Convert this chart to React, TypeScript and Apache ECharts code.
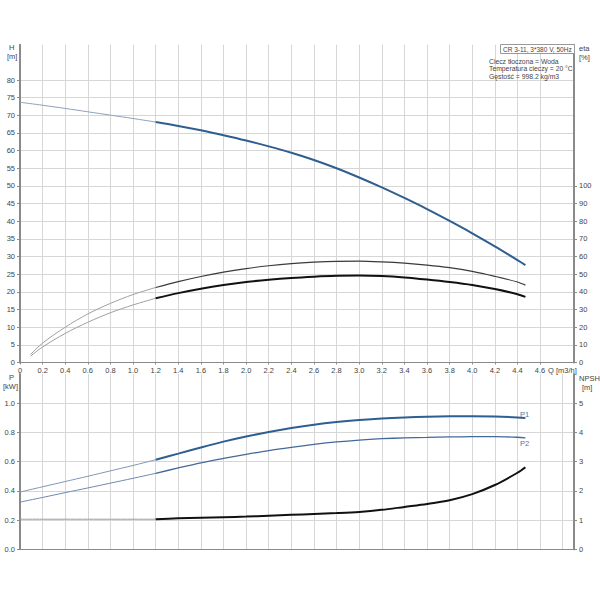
import React, { useEffect, useRef } from "react";
import * as echarts from "echarts";

// ---- data ----
const Q = [0, 0.2, 0.4, 0.6, 0.8, 1.0, 1.2, 1.4, 1.6, 1.8, 2.0, 2.2, 2.4, 2.6, 2.8, 3.0, 3.2, 3.4, 3.6, 3.8, 4.0, 4.2, 4.4, 4.47];
const H = [73.7, 72.85, 71.95, 71.0, 70.05, 69.1, 68.1, 67.0, 65.75, 64.35, 62.85, 61.2, 59.4, 57.35, 55.0, 52.4, 49.6, 46.6, 43.45, 40.1, 36.6, 32.9, 29.0, 27.6];
const P1 = [0.392, 0.428, 0.464, 0.5, 0.537, 0.574, 0.613, 0.655, 0.697, 0.737, 0.772, 0.803, 0.83, 0.853, 0.871, 0.885, 0.896, 0.903, 0.907, 0.91, 0.911, 0.909, 0.903, 0.899];
const P2 = [0.323, 0.355, 0.388, 0.42, 0.453, 0.486, 0.52, 0.557, 0.592, 0.622, 0.65, 0.676, 0.698, 0.718, 0.735, 0.748, 0.757, 0.763, 0.766, 0.769, 0.771, 0.771, 0.767, 0.763];
const NPSH = [1.03, 1.03, 1.03, 1.03, 1.03, 1.03, 1.03, 1.06, 1.08, 1.1, 1.12, 1.15, 1.18, 1.21, 1.24, 1.28, 1.35, 1.45, 1.55, 1.68, 1.89, 2.2, 2.62, 2.81];

const Q_ETA = [0.094, 0.2, 0.4, 0.6, 0.8, 1.0, 1.2, 1.4, 1.6, 1.8, 2.0, 2.2, 2.4, 2.6, 2.8, 3.0, 3.2, 3.4, 3.6, 3.8, 4.0, 4.2, 4.4, 4.47];
const ETA_UPPER = [4.6, 11, 20, 27.5, 33.5, 38.5, 42.5, 45.8, 48.7, 51.2, 53.2, 54.8, 56.0, 56.8, 57.3, 57.4, 57.0, 56.3, 55.2, 53.7, 51.6, 48.8, 45.6, 43.8];
const ETA_LOWER = [3.7, 8.8, 16.5, 22.8, 28.2, 32.6, 36.4, 39.3, 41.8, 43.9, 45.6, 46.9, 47.9, 48.6, 49.1, 49.3, 49.0, 48.2, 47.0, 45.6, 43.9, 41.6, 38.7, 37.2];

const SPLIT_Q = 1.2;

// tick labels
const X_LABELS = [0, 0.2, 0.4, 0.6, 0.8, 1.0, 1.2, 1.4, 1.6, 1.8, 2.0, 2.2, 2.4, 2.6, 2.8, 3.0, 3.2, 3.4, 3.6, 3.8, 4.0, 4.2, 4.4, 4.6];
const H_LABELS = [0, 5, 10, 15, 20, 25, 30, 35, 40, 45, 50, 55, 60, 65, 70, 75, 80];
const ETA_LABELS = [0, 10, 20, 30, 40, 50, 60, 70, 80, 90, 100];
const P_LABELS = [0, 0.2, 0.4, 0.6, 0.8, 1.0];
const NPSH_LABELS = [0, 1, 2, 3, 4, 5];

const INFO_BOX = "CR 3-11, 3*380 V, 50Hz";
const INFO_LINES = ["Ciecz tłoczona = Woda", "Temperatura cieczy = 20 °C", "Gęstość = 998.2 kg/m3"];

const FONT = "'Liberation Sans', Arial, sans-serif";
const TXT = "#444";
const AXIS = "#8a8a8a";
const GRIDC = "#d6d6d6";

function seg(qs: number[], vs: number[], part: "thin" | "thick") {
  const out: number[][] = [];
  qs.forEach((q, i) => {
    if (part === "thin" ? q <= SPLIT_Q + 1e-9 : q >= SPLIT_Q - 1e-9) out.push([q, vs[i]]);
  });
  return out;
}

function line(name: string, data: number[][], xi: number, yi: number, color: string, width: number) {
  return {
    type: "line",
    name,
    xAxisIndex: xi,
    yAxisIndex: yi,
    data,
    smooth: 0.3,
    showSymbol: false,
    symbol: "none",
    lineStyle: { color, width },
    z: width > 1.5 ? 4 : 3,
  };
}

export default function App() {
  const ref = useRef<HTMLDivElement>(null);
  useEffect(() => {
    if (!ref.current) return;
    const chart = echarts.init(ref.current, undefined, { renderer: "svg" });
    const labelBase = { fontSize: 7.5, color: TXT, fontFamily: FONT };
    const xAxisBase = {
      type: "value",
      min: 0,
      max: 4.9,
      interval: 0.2,
      axisLine: { show: true, onZero: false, lineStyle: { color: AXIS, width: 1 } },
      splitLine: { show: true, lineStyle: { color: GRIDC, width: 1 } },
    };
    const option: any = {
      animation: false,
      backgroundColor: "#fff",
      grid: [
        { left: 20, top: 44.7, width: 554, height: 317.8 },
        { left: 20, top: 374, width: 554, height: 175.3 },
      ],
      xAxis: [
        {
          ...xAxisBase,
          gridIndex: 0,
          axisTick: { show: true, length: 2, customValues: X_LABELS, lineStyle: { color: AXIS } },
          axisLabel: {
            ...labelBase,
            margin: 4,
            customValues: X_LABELS,
            formatter: (v: number) => (v === 0 ? "0" : v.toFixed(1)),
          },
        },
        {
          ...xAxisBase,
          gridIndex: 1,
          axisTick: { show: false },
          axisLabel: { show: false },
        },
      ],
      yAxis: [
        {
          type: "value",
          gridIndex: 0,
          position: "left",
          min: 0,
          max: 90,
          interval: 5,
          axisLine: { show: true, lineStyle: { color: AXIS, width: 2 } },
          axisTick: { show: true, length: 3, customValues: H_LABELS, lineStyle: { color: AXIS } },
          axisLabel: { ...labelBase, margin: 5, customValues: H_LABELS },
          splitLine: { show: true, lineStyle: { color: GRIDC, width: 1 } },
        },
        {
          type: "value",
          gridIndex: 0,
          position: "right",
          min: 0,
          max: 180,
          interval: 10,
          axisLine: { show: true, lineStyle: { color: AXIS, width: 2 } },
          axisTick: { show: true, length: 3, customValues: ETA_LABELS, lineStyle: { color: AXIS } },
          axisLabel: { ...labelBase, margin: 5, customValues: ETA_LABELS },
          splitLine: { show: false },
        },
        {
          type: "value",
          gridIndex: 1,
          position: "left",
          min: 0,
          max: 1.2,
          interval: 0.2,
          axisLine: { show: true, lineStyle: { color: AXIS, width: 2 } },
          axisTick: { show: true, length: 3, customValues: P_LABELS, lineStyle: { color: AXIS } },
          axisLabel: { ...labelBase, margin: 5, customValues: P_LABELS, formatter: (v: number) => v.toFixed(1) },
          splitLine: { show: true, lineStyle: { color: GRIDC, width: 1 } },
        },
        {
          type: "value",
          gridIndex: 1,
          position: "right",
          min: 0,
          max: 6,
          interval: 1,
          axisLine: { show: true, lineStyle: { color: AXIS, width: 2 } },
          axisTick: { show: true, length: 3, customValues: NPSH_LABELS, lineStyle: { color: AXIS } },
          axisLabel: { ...labelBase, margin: 5, customValues: NPSH_LABELS },
          splitLine: { show: false },
        },
      ],
      series: [
        line("H", seg(Q, H, "thin"), 0, 0, "#8fa1bb", 1),
        line("H", seg(Q, H, "thick"), 0, 0, "#2f5e90", 2),
        line("eta2", seg(Q_ETA, ETA_UPPER, "thin"), 0, 1, "#a0a0a0", 1),
        line("eta2", seg(Q_ETA, ETA_UPPER, "thick"), 0, 1, "#3a3a3a", 1.2),
        line("eta", seg(Q_ETA, ETA_LOWER, "thin"), 0, 1, "#a0a0a0", 1),
        line("eta", seg(Q_ETA, ETA_LOWER, "thick"), 0, 1, "#111111", 2),
        line("P1", seg(Q, P1, "thin"), 1, 2, "#8297b5", 1),
        line("P1", seg(Q, P1, "thick"), 1, 2, "#2f5e90", 2),
        line("P2", seg(Q, P2, "thin"), 1, 2, "#6f89ad", 1),
        line("P2", seg(Q, P2, "thick"), 1, 2, "#44699a", 1.3),
        line("NPSH", seg(Q, NPSH, "thin"), 1, 3, "#999999", 1),
        line("NPSH", seg(Q, NPSH, "thick"), 1, 3, "#111111", 2),
      ],
      graphic: [
        { type: "text", left: 9, top: 43, style: { text: "H", fontSize: 7.5, fill: TXT, fontFamily: FONT } },
        { type: "text", left: 7, top: 52, style: { text: "[m]", fontSize: 7.5, fill: TXT, fontFamily: FONT } },
        { type: "text", left: 579, top: 44, style: { text: "eta", fontSize: 7.5, fill: TXT, fontFamily: FONT } },
        { type: "text", left: 579, top: 53, style: { text: "[%]", fontSize: 7.5, fill: TXT, fontFamily: FONT } },
        { type: "text", left: 9, top: 373, style: { text: "P", fontSize: 7.5, fill: TXT, fontFamily: FONT } },
        { type: "text", left: 3, top: 382, style: { text: "[kW]", fontSize: 7.5, fill: TXT, fontFamily: FONT } },
        { type: "text", left: 579, top: 374, style: { text: "NPSH", fontSize: 7.5, fill: TXT, fontFamily: FONT } },
        { type: "text", left: 582, top: 383, style: { text: "[m]", fontSize: 7.5, fill: TXT, fontFamily: FONT } },
        { type: "text", left: 548, top: 366, style: { text: "Q [m3/h]", fontSize: 7.5, fill: TXT, fontFamily: FONT } },
        {
          type: "rect",
          shape: { x: 500.5, y: 44.5, width: 74, height: 9 },
          style: { fill: "#fff", stroke: "#999", lineWidth: 1 },
          z: 10,
        },
        { type: "text", left: 503, top: 45.5, z: 11, style: { text: INFO_BOX, fontSize: 6.5, fill: TXT, fontFamily: FONT } },
        ...INFO_LINES.map((t, i) => ({
          type: "text",
          left: 489,
          top: 57.5 + i * 7.5,
          z: 11,
          style: { text: t, fontSize: 6.8, fill: TXT, fontFamily: FONT },
        })),
        { type: "text", left: 520, top: 410, z: 11, style: { text: "P1", fontSize: 7.5, fill: "#4f76a3", fontFamily: FONT } },
        { type: "text", left: 520, top: 439, z: 11, style: { text: "P2", fontSize: 7.5, fill: "#4f76a3", fontFamily: FONT } },
      ],
    };
    chart.setOption(option);
    return () => chart.dispose();
  }, []);
  return (
    <div
      ref={ref}
      style={{ position: "absolute", left: 0, top: 0, width: 600, height: 600, background: "#fff" }}
    />
  );
}
